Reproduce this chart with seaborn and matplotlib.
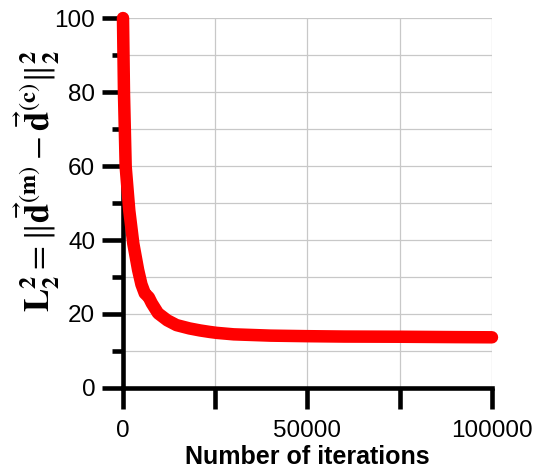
import matplotlib
matplotlib.use("Agg")
import matplotlib.pyplot as plt
import seaborn as sns
import pandas as pd
from matplotlib.ticker import MultipleLocator

# Data
iterations = [0, 270, 730, 1700, 2800, 4100, 5000, 5900, 7000, 7800, 9500,
              12000, 14500, 18000, 20900, 23500, 25400, 30000, 40000, 50200,
              60000, 75100, 90000, 100000]
l2_error = [100, 79.6, 59.8, 48.0, 39.0, 31.9, 28.0, 25.6, 24.5, 22.9, 20.2,
            18.3, 17.0, 16.1, 15.55, 15.15, 14.9, 14.5, 14.15, 14.0,
            13.9, 13.85, 13.75, 13.7]
x_ticks = [0, 25000, 50000, 75000, 100000]
x_tick_labels = ["0", "", "50000", "", "100000"]
y_ticks = [0, 20, 40, 60, 80, 100]

df = pd.DataFrame({"iter": iterations, "err": l2_error})

sns.set_theme(style="white")
plt.rcParams["font.family"] = ["Liberation Sans", "DejaVu Sans"]
plt.rcParams["mathtext.fontset"] = "stix"
plt.rcParams["text.color"] = "black"
plt.rcParams["axes.labelcolor"] = "black"
plt.rcParams["xtick.color"] = "black"
plt.rcParams["ytick.color"] = "black"

fig = plt.figure(figsize=(5.43, 4.75), dpi=100)
ax = fig.add_axes([0.2265, 0.1832, 0.6795, 0.7788])

sns.lineplot(data=df, x="iter", y="err", ax=ax, color="#ff0000",
             linewidth=9, solid_capstyle="round", clip_on=False, zorder=5)

ax.set_xlim(0, 100000)
ax.set_ylim(0, 100)
ax.set_xticks(x_ticks)
ax.set_xticklabels(x_tick_labels)
ax.set_yticks(y_ticks)
ax.yaxis.set_minor_locator(MultipleLocator(10))

ax.grid(True, which="both", axis="y", color="#c8c8c8", linewidth=0.9)
ax.grid(True, which="major", axis="x", color="#c8c8c8", linewidth=0.9)
ax.set_axisbelow(True)

for s in ["top", "right"]:
    ax.spines[s].set_visible(False)
for s in ["left", "bottom"]:
    ax.spines[s].set_visible(True)
    ax.spines[s].set_color("black")
    ax.spines[s].set_linewidth(3.3)

ax.tick_params(axis="y", which="major", direction="out", length=15, width=3.3,
               color="black", labelcolor="black", labelsize=17.5, pad=5, left=True)
ax.tick_params(axis="y", which="minor", direction="out", length=8, width=3.3,
               color="black", left=True)
ax.tick_params(axis="x", which="major", direction="out", length=15, width=3.3,
               color="black", labelcolor="black", labelsize=17.5, pad=8, bottom=True)

ax.set_xlabel("Number of iterations", fontsize=18, fontweight="bold",
              labelpad=2, color="black")
ax.set_ylabel(r"$\mathbf{L}_\mathbf{2}^\mathbf{2} = "
              r"\|\vec{\mathbf{d}}^{(\mathbf{m})} - \vec{\mathbf{d}}^{(\mathbf{c})}\|_\mathbf{2}^\mathbf{2}$",
              fontsize=25, color="black", va="center", ha="center")
ax.yaxis.set_label_coords(-0.233, 0.56)

fig.savefig("out.png", dpi=100, facecolor="white")
